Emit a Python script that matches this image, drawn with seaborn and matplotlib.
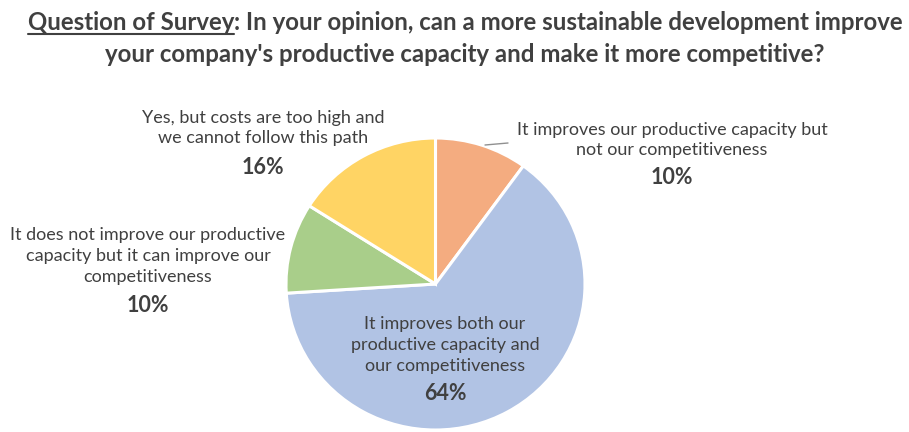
import matplotlib
matplotlib.use("Agg")
import matplotlib.pyplot as plt
import seaborn as sns
from matplotlib.lines import Line2D

sns.set_style("white")
plt.rcParams['font.family'] = ['Lato', 'DejaVu Sans']

# ---- data ----
categories = [
    "It improves our productive capacity but\nnot our competitiveness",
    "It improves both our\nproductive capacity and\nour competitiveness",
    "It does not improve our productive\ncapacity but it can improve our\ncompetitiveness",
    "Yes, but costs are too high and\nwe cannot follow this path",
]
values = [10, 64, 10, 16]
pct_labels = ["10%", "64%", "10%", "16%"]
colors = ["#F4AC80", "#B1C3E4", "#A9CE8A", "#FFD464"]
title_head = "Question of Survey"
title_rest1 = ": In your opinion, can a more sustainable development improve"
title_line2 = "your company's productive capacity and make it more competitive?"

W, H = 909, 432
fig = plt.figure(figsize=(W / 100, H / 100), dpi=100)
fig.patch.set_facecolor("white")

def fx(px):
    return px / W

def fy(py):
    return 1 - py / H

# pie axes: centre (435.5, 284), radii 149.5 x 146 px
cx, cy, rx, ry = 435.5, 284, 149.5, 146
ax = fig.add_axes([fx(cx - rx), fy(cy + ry), 2 * rx / W, 2 * ry / H])
ax.pie(values, colors=colors, startangle=90, counterclock=False,
       wedgeprops=dict(edgecolor="white", linewidth=2.2))
ax.set_xlim(-1, 1)
ax.set_ylim(-1, 1)
ax.set_aspect("auto")
ax.axis("off")

tc = "#404040"
lab_fs = 13
pct_fs = 15.5

# label positions (px of centre for text block, percent y)
label_pos = [
    (672, 140, 178),
    (445, 345, 394),
    (148, 256, 306),
    (263, 128, 168),
]
for cat, pct, (x, ytxt, ypct) in zip(categories, pct_labels, label_pos):
    fig.text(fx(x), fy(ytxt), cat, ha="center", va="center", fontsize=lab_fs,
             color=tc, linespacing=1.38)
    fig.text(fx(x), fy(ypct), pct, ha="center", va="center", fontsize=pct_fs,
             color=tc, fontweight="bold")

# leader line
fig.add_artist(Line2D([fx(485), fx(508)], [fy(145), fy(143)], color="#909090", lw=1))

# ---- title ----
title_fs = 17.3
fig.canvas.draw()
renderer = fig.canvas.get_renderer()
tmp1 = fig.text(0, 0, title_head, fontsize=title_fs, fontweight="bold")
tmp2 = fig.text(0, 0, title_rest1, fontsize=title_fs, fontweight="bold")
w1 = tmp1.get_window_extent(renderer).width
w2 = tmp2.get_window_extent(renderer).width
tmp1.remove(); tmp2.remove()
center_x = 465
start = center_x - (w1 + w2) / 2
y1 = 22
t1 = fig.text(fx(start), fy(y1), title_head, fontsize=title_fs, fontweight="bold",
              color=tc, ha="left", va="center")
t2 = fig.text(fx(start + w1), fy(y1), title_rest1, fontsize=title_fs, fontweight="bold",
              color=tc, ha="left", va="center")
fig.add_artist(Line2D([fx(start), fx(start + w1)], [fy(y1 + 12), fy(y1 + 12)],
                      color=tc, lw=1.5))
fig.text(fx(center_x), fy(55), title_line2, fontsize=title_fs, fontweight="bold",
         color=tc, ha="center", va="center")

fig.savefig("out.png", dpi=100, facecolor="white")
